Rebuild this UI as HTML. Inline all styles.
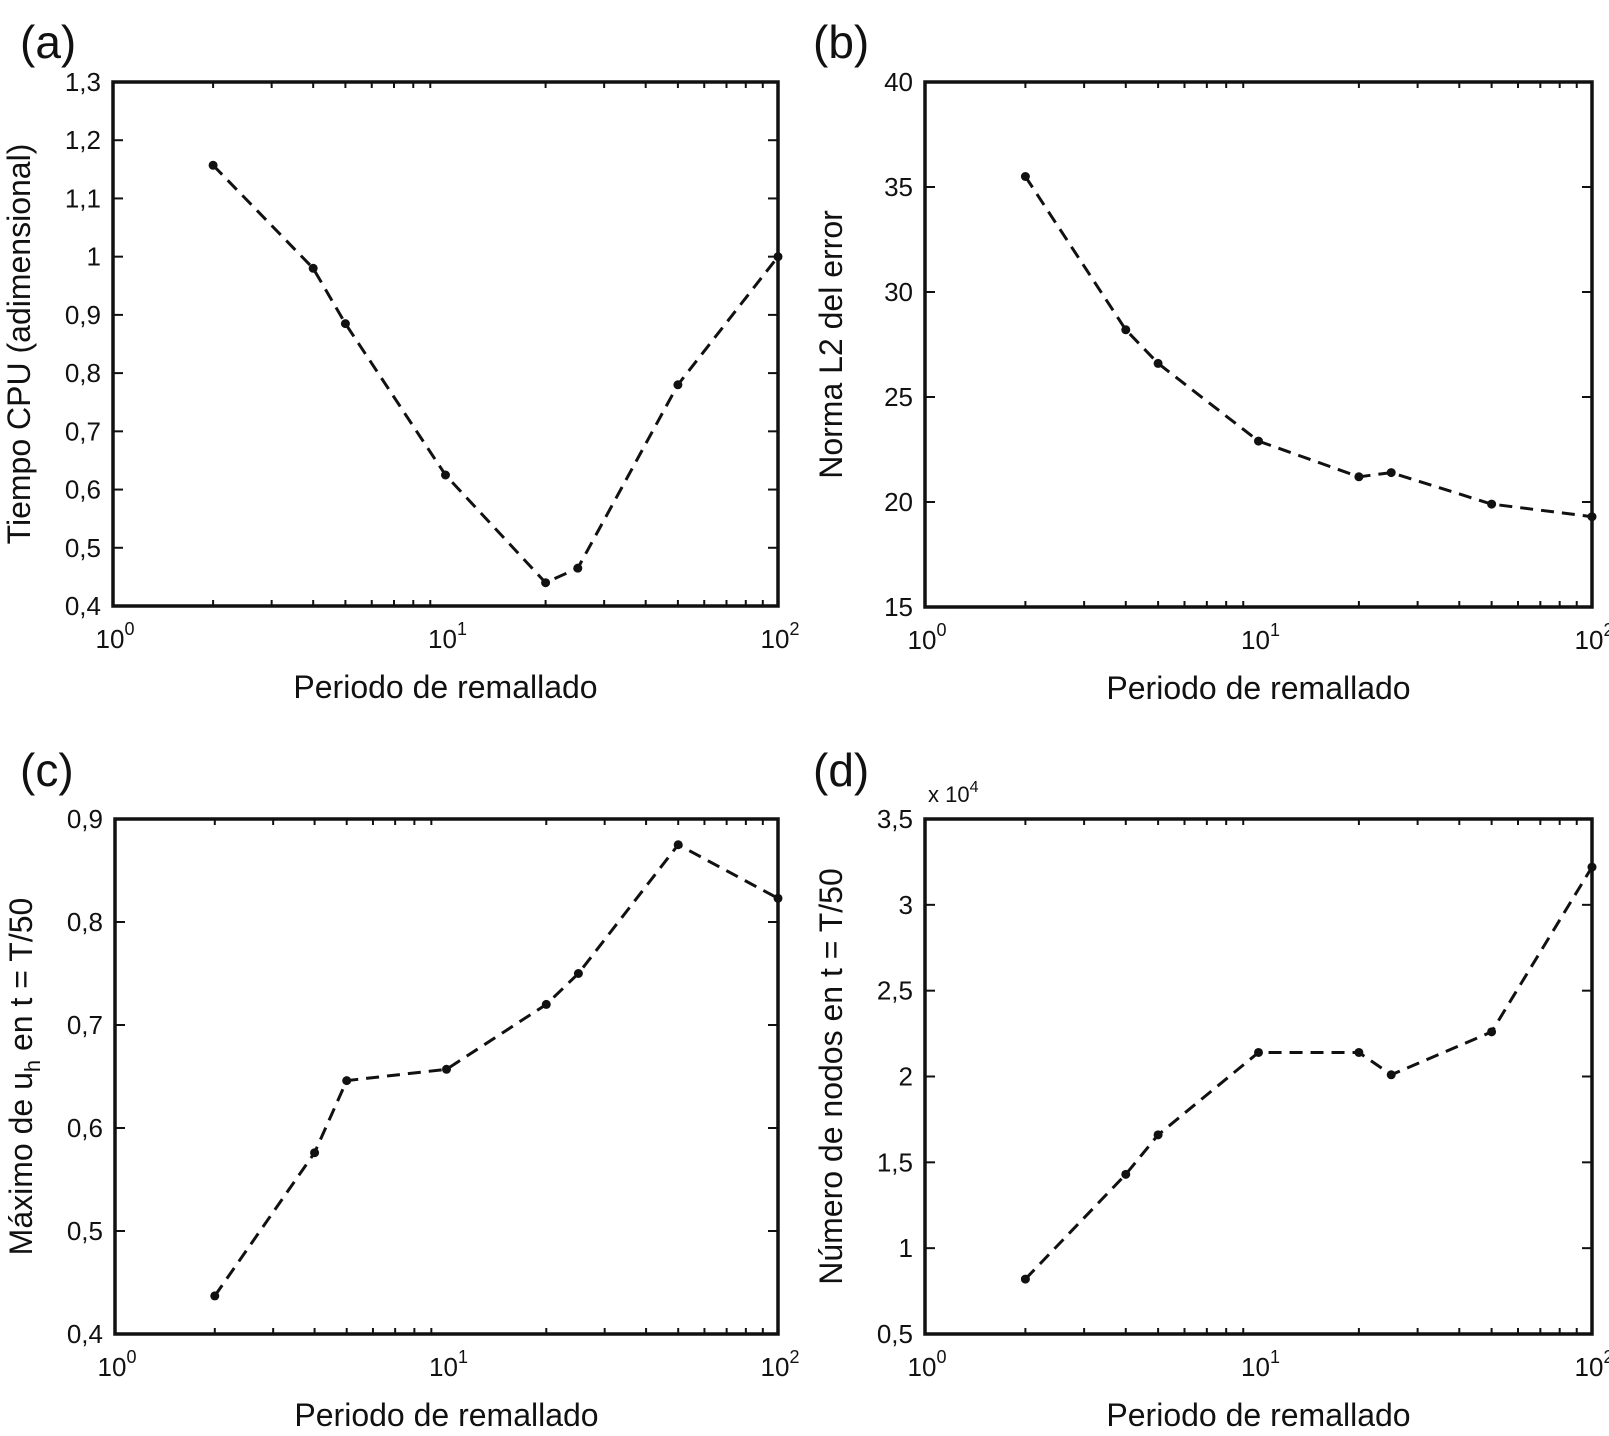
<!DOCTYPE html>
<html><head><meta charset="utf-8"><style>
body{margin:0;background:#fff}
svg{display:block;font-family:"Liberation Sans",sans-serif}
</style></head><body>
<svg id="fig" width="1609" height="1436" viewBox="0 0 1609 1436" xmlns="http://www.w3.org/2000/svg"></svg>
<script>
const xVals=[2,4,5,10,20,25,50,100];
const aVals=[1.157,0.98,0.885,0.625,0.44,0.465,0.78,1.0];
const bVals=[35.5,28.2,26.6,22.9,21.2,21.4,19.9,19.3];
const cVals=[0.437,0.576,0.646,0.657,0.72,0.75,0.875,0.823];
const dVals=[0.82,1.43,1.66,2.14,2.14,2.01,2.26,3.22];
const aTicks=[0.4,0.5,0.6,0.7,0.8,0.9,1,1.1,1.2,1.3];
const bTicks=[15,20,25,30,35,40];
const cTicks=[0.4,0.5,0.6,0.7,0.8,0.9];
const dTicks=[0.5,1,1.5,2,2.5,3,3.5];
const NS="http://www.w3.org/2000/svg";
const svg=document.getElementById('fig');
function mk(tag,attrs,parent){const e=document.createElementNS(NS,tag);for(const k in attrs)e.setAttribute(k,attrs[k]);(parent||svg).appendChild(e);return e;}
function fmt(v){return String(+v.toFixed(2)).replace('.',',');}
const panels=[
 {id:'a',L:113,R:778,T:82,B:606,vals:aVals,ticks:aTicks,yl:'Tiempo CPU (adimensional)',lab:'(a)',labX:20,labY:58},
 {id:'b',L:925,R:1592,T:82,B:607,vals:bVals,ticks:bTicks,yl:'Norma L2 del error',lab:'(b)',labX:813,labY:58},
 {id:'c',L:115,R:778,T:819,B:1334,vals:cVals,ticks:cTicks,yl:'c',lab:'(c)',labX:20,labY:786},
 {id:'d',L:925,R:1592,T:819,B:1334,vals:dVals,ticks:dTicks,yl:'Número de nodos en t = T/50',lab:'(d)',labX:813,labY:786,exp:true}
];
panels.forEach(p=>{
 const g=mk('g',{});
 
 
 const y0=p.ticks[0],y1=p.ticks[p.ticks.length-1];
 const xs=v=>p.L+(Math.log10(v))/2*(p.R-p.L);
 const ys=v=>p.B-(v-y0)/(y1-y0)*(p.B-p.T);
 const lab=mk('text',{x:p.labX,y:p.labY,'font-size':46,fill:'#111'},g);lab.textContent=p.lab;
 
 for(let d=0;d<2;d++)for(let m=1;m<10;m++){const v=Math.pow(10,d)*m;if(m===1&&d>0)continue;const x=xs(v);const len=m===1?10:6;
  mk('line',{x1:x,y1:p.B,x2:x,y2:p.B-len,stroke:'#111','stroke-width':2},g);
  mk('line',{x1:x,y1:p.T,x2:x,y2:p.T+len,stroke:'#111','stroke-width':2},g);}
 [0,1,2].forEach(e=>{const x=xs(Math.pow(10,e));
  const t=mk('text',{x:x+2,y:p.B+42,'font-size':26,'text-anchor':'middle',fill:'#111'},g);
  t.textContent='10';const s=mk('tspan',{dy:-13,'font-size':18},t);s.textContent=String(e);
  });
 p.ticks.forEach(v=>{const y=ys(v);
  mk('line',{x1:p.L,y1:y,x2:p.L+10,y2:y,stroke:'#111','stroke-width':2},g);
  mk('line',{x1:p.R,y1:y,x2:p.R-10,y2:y,stroke:'#111','stroke-width':2},g);
  const t=mk('text',{x:p.L-12,y:y+9,'font-size':26,'text-anchor':'end',fill:'#111'},g);t.textContent=fmt(v);
  });
 mk('rect',{x:p.L,y:p.T,width:p.R-p.L,height:p.B-p.T,fill:'none',stroke:'#111','stroke-width':3.5},g);
 const xt=mk('text',{x:(p.L+p.R)/2,y:p.B+92,'font-size':32,'text-anchor':'middle',fill:'#111'},g);xt.textContent='Periodo de remallado';
 
 const cy=(p.T+p.B)/2;
 const yt=mk('text',{x:0,y:0,'font-size':32,'text-anchor':'middle',fill:'#111',transform:`translate(${p.L-83},${cy}) rotate(-90)`},g);
 if(p.id==='c'){yt.appendChild(document.createTextNode('Máximo de u'));const s=mk('tspan',{dy:8,'font-size':22},yt);s.textContent='h';const s2=mk('tspan',{dy:-8},yt);s2.textContent=' en t = T/50';}
 else yt.textContent=p.yl;
 
 if(p.exp){const t=mk('text',{x:p.L+3,y:p.T-17,'font-size':22,fill:'#111'},g);t.textContent='x 10';const s=mk('tspan',{dy:-10,'font-size':16},t);s.textContent='4';
  }
 const pts=xVals.map((x,i)=>xs(x)+','+ys(p.vals[i])).join(' ');
 const line=mk('polyline',{points:pts,fill:'none',stroke:'#111','stroke-width':3,'stroke-dasharray':'13 8'},g);
 
 xVals.forEach((x,i)=>{const c=mk('circle',{cx:xs(x),cy:ys(p.vals[i]),r:4.5,fill:'#111'},g);
  });
});
</script>
</body></html>
